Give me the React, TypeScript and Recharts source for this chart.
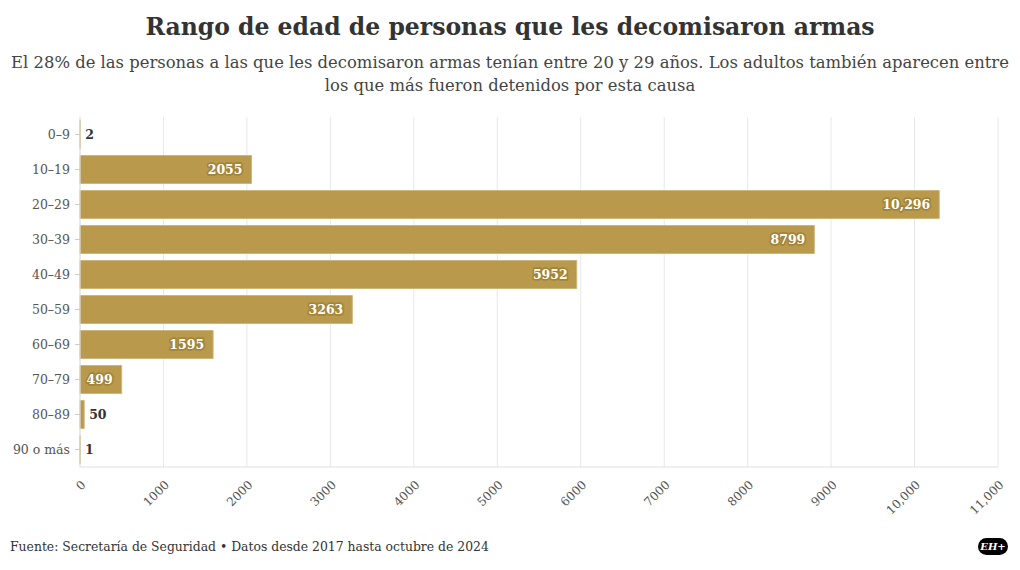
import { BarChart, Bar, XAxis, YAxis, CartesianGrid, LabelList } from "recharts";

const FONT = "'DejaVu Serif', 'Liberation Serif', serif";

const rangos = ["0–9", "10–19", "20–29", "30–39", "40–49", "50–59", "60–69", "70–79", "80–89", "90 o más"];
const personas = [2, 2055, 10296, 8799, 5952, 3263, 1595, 499, 50, 1];
const ticksX = [0, 1000, 2000, 3000, 4000, 5000, 6000, 7000, 8000, 9000, 10000, 11000];

const data = rangos.map((rango, i) => ({ rango, valor: personas[i] }));

const fmt = (v: number) => (v >= 10000 ? v.toLocaleString("en-US") : String(v));

function XTick(props: any) {
  const { x, y, payload } = props;
  return (
    <text
      x={x + 4}
      y={y + 8}
      transform={`rotate(-45, ${x + 4}, ${y + 8})`}
      textAnchor="end"
      dominantBaseline="middle"
      fontSize={12}
      fontFamily={FONT}
      fill="#555"
    >
      {fmt(payload.value)}
    </text>
  );
}

function ValueLabel(props: any) {
  const { x, y, width, height, value } = props;
  const cy = y + height / 2;
  if (value >= 400) {
    return (
      <text
        x={x + width - 9}
        y={cy}
        textAnchor="end"
        dominantBaseline="central"
        fontSize={12.5}
        fontWeight="bold"
        fontFamily={FONT}
        fill="#fff"
        stroke="#a3853a"
        strokeWidth={3.5}
        strokeLinejoin="round"
        style={{ paintOrder: "stroke" }}
      >
        {fmt(value)}
      </text>
    );
  }
  return (
    <text
      x={x + width + 5}
      y={cy}
      textAnchor="start"
      dominantBaseline="central"
      fontSize={12.5}
      fontWeight="bold"
      fontFamily={FONT}
      fill="#333"
    >
      {fmt(value)}
    </text>
  );
}

export default function App() {
  return (
    <div
      style={{
        position: "absolute",
        left: 0,
        top: 0,
        width: 1020,
        height: 570,
        background: "#fff",
        fontFamily: FONT,
        overflow: "hidden",
      }}
    >
      <div
        style={{
          position: "absolute",
          top: 13,
          left: 0,
          width: 1020,
          textAlign: "center",
          fontSize: 23.5,
          fontWeight: "bold",
          color: "#333",
        }}
      >
        Rango de edad de personas que les decomisaron armas
      </div>
      <div
        style={{
          position: "absolute",
          top: 51,
          left: 0,
          width: 1020,
          textAlign: "center",
          fontSize: 16.4,
          lineHeight: "23px",
          color: "#444",
          whiteSpace: "nowrap",
        }}
      >
        El 28% de las personas a las que les decomisaron armas tenían entre 20 y 29 años. Los adultos también aparecen entre
        <br />
        los que más fueron detenidos por esta causa
      </div>
      <div style={{ position: "absolute", top: 100, left: 0 }}>
        <BarChart
          width={1020}
          height={420}
          data={data}
          layout="vertical"
          margin={{ top: 17, right: 22, bottom: 8, left: 10 }}
          barCategoryGap="10%"
        >
          <CartesianGrid horizontal={false} stroke="#e8e8e8" />
          <XAxis
            type="number"
            domain={[0, 11000]}
            ticks={ticksX}
            interval={0}
            height={45}
            tick={<XTick />}
            axisLine={{ stroke: "#e0e0e0" }}
            tickLine={false}
          />
          <YAxis
            type="category"
            dataKey="rango"
            width={70}
            tick={{ fontSize: 12.5, fill: "#555", fontFamily: FONT }}
            tickLine={{ stroke: "#ccc" }}
            tickSize={5}
            tickMargin={5}
            axisLine={{ stroke: "#e0e0e0" }}
          />
          <Bar dataKey="valor" fill="#b9994c" stroke="#cdb67c" strokeWidth={1} isAnimationActive={false}>
            <LabelList dataKey="valor" content={<ValueLabel />} />
          </Bar>
        </BarChart>
      </div>
      <div style={{ position: "absolute", top: 539, left: 10, fontSize: 12.4, color: "#333" }}>
        Fuente: Secretaría de Seguridad • Datos desde 2017 hasta octubre de 2024
      </div>
      <div
        style={{
          position: "absolute",
          top: 538,
          left: 978,
          width: 30,
          height: 17,
          borderRadius: 9,
          background: "#000",
          color: "#fff",
          fontSize: 10,
          fontWeight: "bold",
          fontStyle: "italic",
          textAlign: "center",
          lineHeight: "17px",
        }}
      >
        EH+
      </div>
    </div>
  );
}
